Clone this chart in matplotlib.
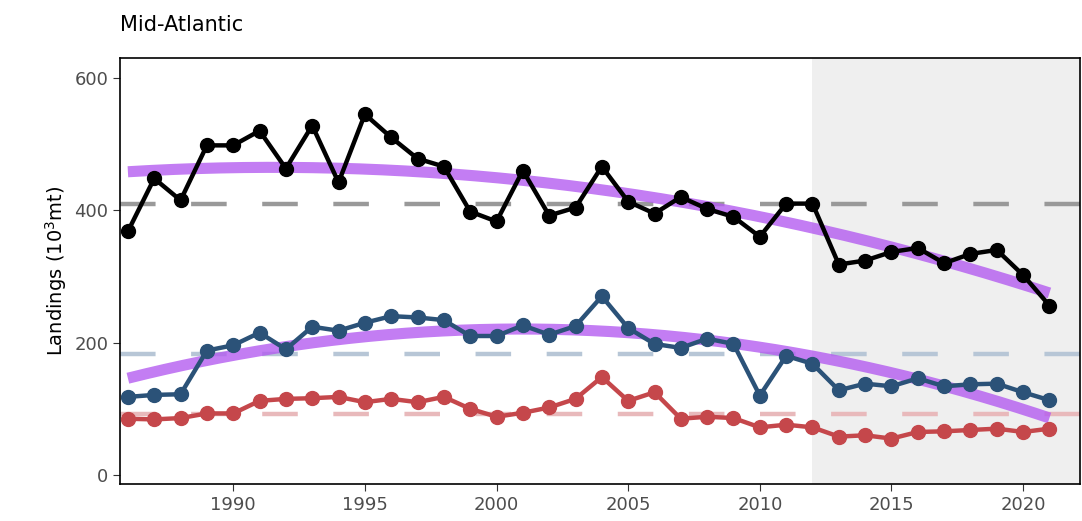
import numpy as np
import matplotlib.pyplot as plt

years = list(range(1986, 2022))
total = [368, 448, 415, 498, 498, 520, 463, 528, 442, 545, 510, 478, 466, 398, 383, 460, 392, 404, 466, 413, 395, 420, 402, 390, 360, 410, 410, 318, 324, 337, 343, 320, 334, 340, 302, 256]
blue = [118, 121, 122, 188, 196, 215, 190, 224, 218, 230, 240, 238, 234, 210, 210, 226, 212, 225, 270, 222, 198, 192, 206, 198, 120, 180, 168, 128, 138, 134, 146, 134, 137, 138, 125, 113]
red = [85, 84, 86, 93, 93, 112, 115, 116, 118, 110, 115, 110, 118, 100, 88, 94, 102, 115, 148, 112, 125, 85, 88, 86, 72, 76, 72, 58, 60, 55, 65, 66, 68, 70, 65, 70]

fig = plt.figure(figsize=(10.82, 5.21), dpi=100)
ax = fig.add_axes([120/1082, 1-484/521, 960/1082, 426/521])
ax.set_xlim(1985.7, 2022.16)
ax.set_ylim(-13.6, 630)
ax.axvspan(2012, 2030, color='#efefef', zorder=0, lw=0)
yr = np.array(years)
for vals, col, mcol in [(total, 'black', '#999999'), (blue, '#2b5278', '#b7c6d6'), (red, '#c5474b', '#e8b9bb')]:
    v = np.array(vals)
    ax.axhline(v.mean(), color=mcol, ls=(0, (8, 8)), lw=3.2, zorder=1)
for vals in [total, blue]:
    p = np.polyfit(yr, vals, 2)
    xs = np.linspace(1986, 2021, 200)
    ax.plot(xs, np.polyval(p, xs), color='#b45cf0', alpha=0.8, lw=8, zorder=2, solid_capstyle='butt')
for vals, col in [(total, 'black'), (blue, '#2b5278'), (red, '#c5474b')]:
    ax.plot(years, vals, color=col, lw=3.2, marker='o', ms=10, zorder=3)
ax.set_xticks([1990, 1995, 2000, 2005, 2010, 2015, 2020])
ax.set_yticks([0, 200, 400, 600])
ax.tick_params(labelsize=13, colors='#333333', labelcolor='#4d4d4d', length=5)
ax.set_ylabel('Landings (10$^3$mt)', fontsize=14)
for s in ax.spines.values():
    s.set_linewidth(1.2)
fig.text(120/1082, 1-25/521, 'Mid-Atlantic', fontsize=15, va='center')
fig.savefig('out.png')
